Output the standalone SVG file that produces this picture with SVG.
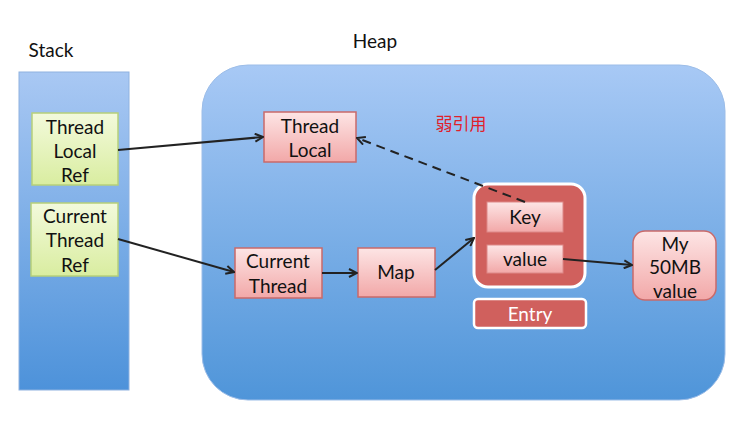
<svg xmlns="http://www.w3.org/2000/svg" width="731" height="425" viewBox="0 0 731 425">
<defs>
<linearGradient id="gStack" x1="0" y1="0" x2="0" y2="1"><stop offset="0" stop-color="#a9c8f3"/><stop offset="1" stop-color="#4d92da"/></linearGradient>
<linearGradient id="gHeap" x1="0" y1="0" x2="0" y2="1"><stop offset="0" stop-color="#a8c9f5"/><stop offset="1" stop-color="#4f95d9"/></linearGradient>
<linearGradient id="gGreen" x1="0" y1="0" x2="0" y2="1"><stop offset="0" stop-color="#f3fadc"/><stop offset="1" stop-color="#d9eda0"/></linearGradient>
<linearGradient id="gPink" x1="0" y1="0" x2="0" y2="1"><stop offset="0" stop-color="#fde5e5"/><stop offset="1" stop-color="#f2a8a8"/></linearGradient>
<marker id="ah" markerWidth="10" markerHeight="10" refX="9" refY="5" orient="auto" markerUnits="userSpaceOnUse"><path d="M1,1 L9,5 L1,9" fill="none" stroke="#222" stroke-width="2"/></marker>
</defs>
<style>
.t{font-family:"Lato","Open Sans","Liberation Sans",sans-serif;font-size:19px;fill:#111;text-anchor:middle}
.green{fill:url(#gGreen);stroke:#b6d07a;stroke-width:1.5}
.pink{fill:url(#gPink);stroke:#c96a6a;stroke-width:1.5}
.c{fill:none;stroke:#222;stroke-width:2;marker-end:url(#ah)}
</style>
<rect width="731" height="425" fill="#ffffff"/>
<text class="t" x="51" y="57" style="font-size:19px">Stack</text>
<text class="t" x="375" y="48">Heap</text>
<g id="stack"><rect x="19" y="72" width="110" height="318" fill="url(#gStack)" stroke="#8fb2e0" stroke-width="1"/></g>
<g id="heap"><rect x="202" y="65" width="523" height="335" rx="46" ry="46" fill="url(#gHeap)" stroke="#9cbde8" stroke-width="1"/></g>
<text x="461" y="130" style="font-family:'Noto Sans CJK SC',sans-serif;font-size:17px;fill:#e0202a;text-anchor:middle">弱引用</text>
<g id="threadLocalRef"><rect class="green" x="32" y="113" width="86" height="72"/>
<text class="t" x="75" y="134">Thread</text><text class="t" x="75" y="158">Local</text><text class="t" x="75" y="182">Ref</text></g>
<g id="currentThreadRef"><rect class="green" x="31" y="203" width="87" height="73"/>
<text class="t" x="75" y="223">Current</text><text class="t" x="75" y="247">Thread</text><text class="t" x="75" y="272">Ref</text></g>
<g id="threadLocal"><rect class="pink" x="264" y="112" width="92" height="50"/>
<text class="t" x="310" y="133">Thread</text><text class="t" x="310" y="157">Local</text></g>
<g id="currentThread"><rect class="pink" x="235" y="248" width="87" height="50"/>
<text class="t" x="278" y="268">Current</text><text class="t" x="278" y="293">Thread</text></g>
<g id="map"><rect class="pink" x="358" y="248" width="77" height="49"/>
<text class="t" x="396" y="279">Map</text></g>
<g id="entry"><rect x="474" y="184" width="111" height="103" rx="14" ry="14" fill="#d0605d" stroke="#ffffff" stroke-width="3"/>
<rect x="487" y="202" width="76" height="30" fill="url(#gPink)" stroke="#d88" stroke-width="1"/>
<text class="t" x="525" y="224">Key</text>
<rect x="487" y="245" width="76" height="28" fill="url(#gPink)" stroke="#d88" stroke-width="1"/>
<text class="t" x="525" y="266">value</text></g>
<g id="entryLabel"><rect x="474" y="299" width="112" height="29" rx="4" ry="4" fill="#d0605d" stroke="#ffffff" stroke-width="2.5"/>
<text class="t" x="530" y="321" style="fill:#ffffff">Entry</text></g>
<g id="my50mb"><rect class="pink" x="633" y="231" width="83" height="69" rx="12" ry="12"/>
<text class="t" x="675" y="251">My</text><text class="t" x="675" y="274">50MB</text><text class="t" x="675" y="298">value</text></g>
<g id="connectors">
<line class="c" x1="118" y1="150" x2="263" y2="137"/>
<line class="c" x1="118" y1="239" x2="234" y2="272"/>
<line class="c" x1="322" y1="273" x2="357" y2="273"/>
<line class="c" x1="435" y1="270" x2="474" y2="238"/>
<line class="c" x1="563" y1="259" x2="632" y2="265"/>
<line class="c" x1="525" y1="202" x2="357" y2="138" stroke-dasharray="9,6"/>
</g>
</svg>
